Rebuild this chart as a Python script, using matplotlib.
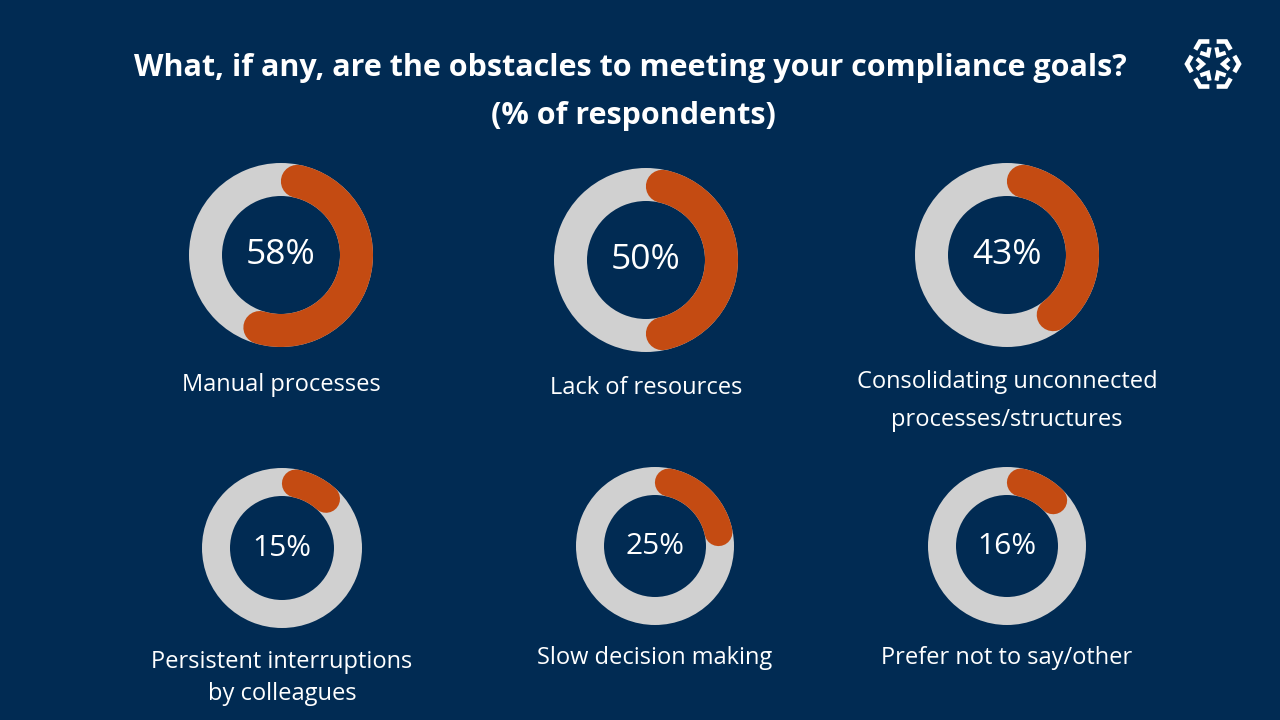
import matplotlib.pyplot as plt
from matplotlib.patches import Wedge
import numpy as np

BG = '#012b53'
ORANGE = '#c44b12'
GREY = '#d0d0d0'

labels = [
    'Manual processes',
    'Lack of resources',
    'Consolidating unconnected\nprocesses/structures',
    'Persistent interruptions\nby colleagues',
    'Slow decision making',
    'Prefer not to say/other',
]
shares = [58, 50, 43, 15, 25, 16]

# layout in pixels: centre x, centre y, outer radius, ring width, pct font, label y, line pitch
layout = [
    (281, 255, 92, 33, 25.5, 385, 37),
    (646, 260, 92, 33, 25.5, 388, 37),
    (1007, 255, 92, 33, 25.5, 401, 37),
    (282, 548, 80, 28, 21.5, 678, 32),
    (655, 546, 79, 28, 21.5, 658, 32),
    (1007, 546, 79, 28, 21.5, 658, 32),
]

plt.rcParams['font.family'] = ['Open Sans', 'DejaVu Sans']

fig = plt.figure(figsize=(12.8, 7.2), dpi=100, facecolor=BG)
ax = fig.add_axes([0, 0, 1, 1])
ax.set_xlim(0, 1280)
ax.set_ylim(720, 0)
ax.set_aspect('equal')
ax.set_facecolor(BG)
ax.axis('off')

px = 72 / 100  # points per pixel

for label, share, (cx, cy, r, w, fs, ly, pitch) in zip(labels, shares, layout):
    ax.add_patch(Wedge((cx, cy), r, 0, 360, width=w, facecolor=GREY,
                       edgecolor='none'))
    mid = r - w / 2
    cap = (w / 2) / mid
    end = share / 100 * 2 * np.pi
    t = np.linspace(cap, end - cap, 200)
    ax.plot(cx + mid * np.sin(t), cy - mid * np.cos(t), color=ORANGE,
            lw=w * px, solid_capstyle='round')
    ax.text(cx, cy, f'{share}%', color='white', fontsize=fs,
            ha='center', va='center')
    lines = label.split('\n')
    y0 = ly - pitch * (len(lines) - 1) / 2
    for i, line in enumerate(lines):
        ax.text(cx, y0 + i * pitch, line, color='white', fontsize=17,
                ha='center', va='center')

ax.text(630, 68, 'What, if any, are the obstacles to meeting your compliance goals?',
        color='white', fontsize=22, fontweight='bold', ha='center', va='center')
ax.text(633, 116, '(% of respondents)', color='white', fontsize=22,
        fontweight='bold', ha='center', va='center')

# logo: outer broken hexagon plus inward-pointing chevrons
lx, ly0 = 1213, 64
for k in range(6):
    a = np.radians(60 * k)
    vx, vy = lx + 26 * np.cos(a), ly0 - 26 * np.sin(a)
    xs, ys = [], []
    for d in (-1, 1):
        b = a + d * np.radians(60)
        nx, ny = lx + 26 * np.cos(b), ly0 - 26 * np.sin(b)
        xs.append(vx + 0.36 * (nx - vx))
        ys.append(vy + 0.36 * (ny - vy))
    ax.plot([xs[0], vx, xs[1]], [ys[0], vy, ys[1]], color='white', lw=3.3,
            solid_capstyle='butt', solid_joinstyle='miter')
    ix, iy = lx + 10 * np.cos(a), ly0 - 10 * np.sin(a)
    ex = [lx + 17 * np.cos(a + d * 0.32) for d in (-1, 1)]
    ey = [ly0 - 17 * np.sin(a + d * 0.32) for d in (-1, 1)]
    ax.plot([ex[0], ix, ex[1]], [ey[0], iy, ey[1]], color='white', lw=3.0,
            solid_capstyle='butt', solid_joinstyle='miter')

fig.savefig('out.png', dpi=100, facecolor=BG)
